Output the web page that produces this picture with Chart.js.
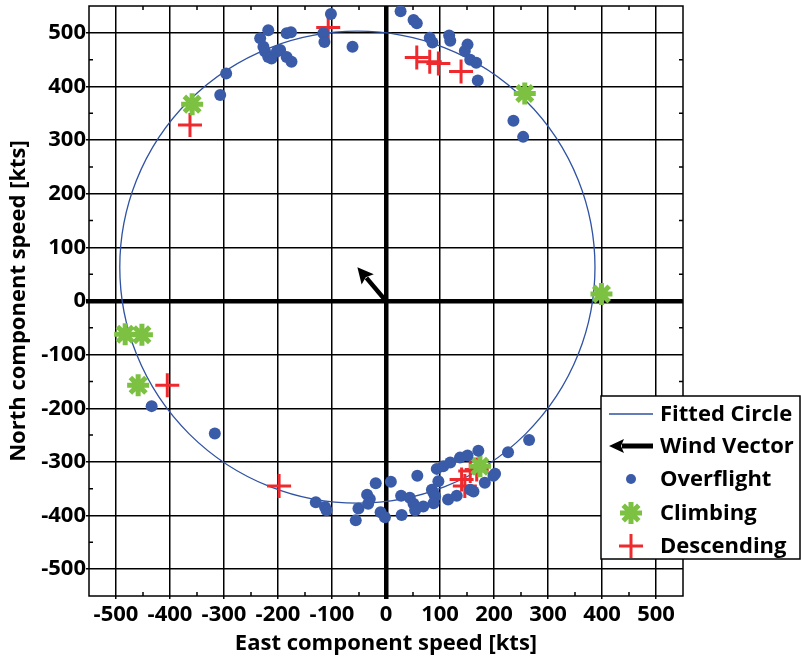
<!DOCTYPE html>
<html>
<head>
<meta charset="utf-8">
<title>Wind vector from ground speed components</title>
<script src="https://cdn.jsdelivr.net/npm/chart.js@4.4.1/dist/chart.umd.min.js"></script>
<style>
html, body { margin: 0; padding: 0; background: #fff; }
</style>
</head>
<body>
<canvas id="wind" width="801" height="659"></canvas>
<script>
// east / north ground speed components in kts
var overflightX = [-296, -307, -233, -218, -227, -224, -218, -212, -202, -196, -184, -175, -184, -176, -102, -116, -114, -62,
    27, 51, 57, 81, 86, 117, 119, 151, 146, 156, 167, 170, 236, 254,
    -434, -317,
    -130, -113, -110, -51, -56, -19, -35, -30, -33, 9, -10, -2,
    28, 29, 44, 51, 54, 69, 58, 94, 106, 119, 137, 151, 171, 97, 85, 88, 91, 88, 115, 131, 156, 162, 183, 199, 202, 226, 265];
var overflightY = [424, 384, 490, 505, 474, 465, 455, 452, 465, 468, 455, 446, 499, 501, 535, 499, 483, 474,
    540, 524, 518, 491, 482, 495, 485, 478, 466, 450, 444, 411, 336, 306,
    -196, -247,
    -375, -384, -390, -387, -409, -340, -361, -369, -378, -337, -394, -403,
    -363, -399, -367, -378, -390, -383, -326, -313, -308, -301, -292, -288, -279, -336, -352, -358, -364, -377, -370, -363, -352, -355, -339, -326, -322, -282, -259];

var climbingX = [-359, 257, 399, -483, -452, -459, 174];
var climbingY = [367, 387, 13, -62, -63, -157, -308];

var descendingX = [-363, -107, 57, 81, 97, 139, -405, -198, 140, 146, 156, 168];
var descendingY = [328, 510, 454, 446, 443, 428, -157, -345, -333, -345, -317, -314];

// fitted circle: centre is the wind vector, radius is the airspeed
var windVector = [-53, 63];
var circleRadius = 440;

var tickValues = [-500, -400, -300, -200, -100, 0, 100, 200, 300, 400, 500];
var minorTicks = [-450, -350, -250, -150, -50, 50, 150, 250, 350, 450];
var axisMin = -550, axisMax = 550;

var legendLabels = ['Fitted Circle', 'Wind Vector', 'Overflight', 'Climbing', 'Descending'];

var BLUE = '#3a5ba8';
var LINE_BLUE = '#2f52a3';
var GREEN = '#7cc142';
var RED = '#ee2a2f';
var FONT = "'Open Sans', sans-serif";

function toPoints(xs, ys) {
    return xs.map(function(x, i) { return { x: x, y: ys[i] }; });
}

function drawArrow(ctx, x0, y0, x1, y1, width, headLen, headHalf) {
    var ang = Math.atan2(y1 - y0, x1 - x0);
    var bx = x1 - headLen * Math.cos(ang);
    var by = y1 - headLen * Math.sin(ang);
    ctx.save();
    ctx.strokeStyle = '#000';
    ctx.fillStyle = '#000';
    ctx.lineWidth = width;
    ctx.beginPath();
    ctx.moveTo(x0, y0);
    ctx.lineTo(bx + 2 * Math.cos(ang), by + 2 * Math.sin(ang));
    ctx.stroke();
    ctx.beginPath();
    ctx.moveTo(x1, y1);
    ctx.lineTo(bx - headHalf * Math.sin(ang), by + headHalf * Math.cos(ang));
    ctx.lineTo(bx + 3 * Math.cos(ang), by + 3 * Math.sin(ang));
    ctx.lineTo(bx + headHalf * Math.sin(ang), by - headHalf * Math.cos(ang));
    ctx.closePath();
    ctx.fill();
    ctx.restore();
}

function drawStar(ctx, x, y, r, w) {
    ctx.save();
    ctx.strokeStyle = GREEN;
    ctx.lineWidth = w;
    ctx.beginPath();
    for (var k = 0; k < 4; k++) {
        var a = k * Math.PI / 4;
        ctx.moveTo(x - r * Math.cos(a), y - r * Math.sin(a));
        ctx.lineTo(x + r * Math.cos(a), y + r * Math.sin(a));
    }
    ctx.stroke();
    ctx.restore();
}

function drawCross(ctx, x, y, r, w) {
    ctx.save();
    ctx.strokeStyle = RED;
    ctx.lineWidth = w;
    ctx.beginPath();
    ctx.moveTo(x - r, y); ctx.lineTo(x + r, y);
    ctx.moveTo(x, y - r); ctx.lineTo(x, y + r);
    ctx.stroke();
    ctx.restore();
}

// frame, minor ticks and the fitted circle go under the points
var underlay = {
    id: 'underlay',
    beforeDatasetsDraw: function(chart) {
        var ctx = chart.ctx, a = chart.chartArea;
        var xs = chart.scales.x, ys = chart.scales.y;
        ctx.save();
        ctx.strokeStyle = '#000';
        ctx.lineWidth = 1.5;
        ctx.strokeRect(a.left, a.top, a.right - a.left, a.bottom - a.top);
        ctx.beginPath();
        minorTicks.forEach(function(v) {
            var px = xs.getPixelForValue(v);
            ctx.moveTo(px, a.bottom); ctx.lineTo(px, a.bottom - 4);
            ctx.moveTo(px, a.top); ctx.lineTo(px, a.top + 4);
            var py = ys.getPixelForValue(v);
            ctx.moveTo(a.left, py); ctx.lineTo(a.left + 4, py);
            ctx.moveTo(a.right, py); ctx.lineTo(a.right - 4, py);
        });
        ctx.stroke();

        var cx = xs.getPixelForValue(windVector[0]);
        var cy = ys.getPixelForValue(windVector[1]);
        var rx = Math.abs(xs.getPixelForValue(windVector[0] + circleRadius) - cx);
        var ry = Math.abs(ys.getPixelForValue(windVector[1] + circleRadius) - cy);
        ctx.strokeStyle = LINE_BLUE;
        ctx.lineWidth = 1.3;
        ctx.beginPath();
        ctx.ellipse(cx, cy, rx, ry, 0, 0, Math.PI * 2);
        ctx.stroke();
        ctx.restore();
    },
    afterDatasetsDraw: function(chart) {
        var xs = chart.scales.x, ys = chart.scales.y;
        drawArrow(chart.ctx, xs.getPixelForValue(0), ys.getPixelForValue(0),
            xs.getPixelForValue(windVector[0]), ys.getPixelForValue(windVector[1]), 4.5, 16, 8);
    }
};

var legendBox = {
    id: 'legendBox',
    afterDraw: function(chart) {
        var ctx = chart.ctx;
        var left = 601, top = 396, right = 800, bottom = 559;
        ctx.save();
        ctx.fillStyle = '#fff';
        ctx.fillRect(left, top, right - left, bottom - top);
        ctx.strokeStyle = '#000';
        ctx.lineWidth = 1.5;
        ctx.strokeRect(left, top, right - left, bottom - top);

        var sx = 631, rowY = [414, 446, 479, 513, 546];
        ctx.strokeStyle = LINE_BLUE;
        ctx.lineWidth = 1.5;
        ctx.beginPath(); ctx.moveTo(609, rowY[0]); ctx.lineTo(653, rowY[0]); ctx.stroke();
        drawArrow(ctx, 653, rowY[1], 609, rowY[1], 5, 15, 7);
        ctx.fillStyle = BLUE;
        ctx.beginPath(); ctx.arc(sx, rowY[2], 5, 0, Math.PI * 2); ctx.fill();
        drawStar(ctx, sx, rowY[3], 11, 5);
        drawCross(ctx, sx, rowY[4], 12, 3);

        ctx.fillStyle = '#000';
        ctx.font = '700 22px ' + FONT;
        ctx.textBaseline = 'middle';
        legendLabels.forEach(function(t, i) { ctx.fillText(t, 660, rowY[i] + 1); });
        ctx.restore();
    }
};

var tickFont = { family: FONT, size: 22, weight: '700' };

function squeezeY(scale) {
    scale.width = 89;
    scale.paddingTop = 0;
    scale.paddingBottom = 0;
}

function squeezeX(scale) {
    scale.height = 63;
    scale.paddingLeft = 0;
    scale.paddingRight = 0;
}

var chart = new Chart(document.getElementById('wind').getContext('2d'), {
    type: 'scatter',
    data: {
        datasets: [{
            label: 'Overflight',
            data: toPoints(overflightX, overflightY),
            pointStyle: 'circle',
            pointRadius: 6,
            backgroundColor: BLUE,
            borderColor: BLUE,
            borderWidth: 0
        }, {
            label: 'Climbing',
            data: toPoints(climbingX, climbingY),
            pointStyle: 'star',
            pointRadius: 11,
            borderColor: GREEN,
            backgroundColor: GREEN,
            borderWidth: 5
        }, {
            label: 'Descending',
            data: toPoints(descendingX, descendingY),
            pointStyle: 'cross',
            pointRadius: 12,
            borderColor: RED,
            backgroundColor: RED,
            borderWidth: 3
        }]
    },
    options: {
        responsive: false,
        animation: false,
        layout: { autoPadding: false, padding: { top: 6, right: 118, left: 0, bottom: 0 } },
        plugins: {
            legend: { display: false },
            tooltip: { enabled: false }
        },
        scales: {
            x: {
                type: 'linear',
                min: axisMin,
                max: axisMax,
                afterBuildTicks: function(scale) {
                    scale.ticks = tickValues.map(function(v) { return { value: v }; });
                },
                afterFit: squeezeX,
                border: { display: false },
                grid: {
                    color: '#000',
                    lineWidth: function(c) { return c.tick && c.tick.value === 0 ? 4.5 : 1.5; },
                    tickLength: 3
                },
                ticks: { color: '#000', font: tickFont, padding: 3, maxRotation: 0, autoSkip: false },
                title: {
                    display: true,
                    text: 'East component speed [kts]',
                    color: '#000',
                    font: tickFont,
                    padding: { top: 0, bottom: 2 }
                }
            },
            y: {
                type: 'linear',
                min: axisMin,
                max: axisMax,
                afterBuildTicks: function(scale) {
                    scale.ticks = tickValues.map(function(v) { return { value: v }; });
                },
                afterFit: squeezeY,
                border: { display: false },
                grid: {
                    color: '#000',
                    lineWidth: function(c) { return c.tick && c.tick.value === 0 ? 4.5 : 1.5; },
                    tickLength: 3
                },
                ticks: { color: '#000', font: tickFont, padding: 0, autoSkip: false },
                title: {
                    display: true,
                    text: 'North component speed [kts]',
                    color: '#000',
                    font: tickFont,
                    padding: { top: 6, bottom: 0 }
                }
            }
        }
    },
    plugins: [underlay, legendBox]
});
</script>
</body>
</html>
